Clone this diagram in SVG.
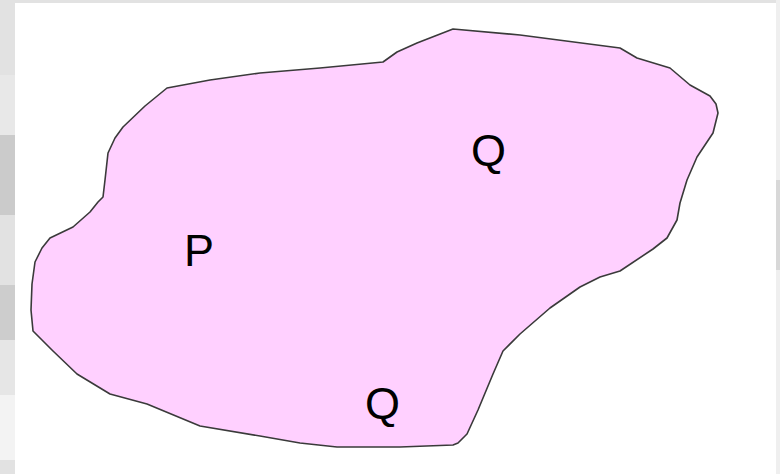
<svg xmlns="http://www.w3.org/2000/svg" width="780" height="474" viewBox="0 0 780 474">
<style>
.lbl{font-family:"Liberation Sans",Arial,sans-serif;font-size:45px;fill:#000}
.blob{fill:#ffd0ff;stroke:#3a3a3a;stroke-width:1.6;stroke-linejoin:round}
</style>
<g id="background">
<rect x="0" y="0" width="780" height="474" fill="#e2e2e2"/>
<rect x="0" y="75" width="15" height="60" fill="#e8e8e8"/>
<rect x="0" y="135" width="15" height="80" fill="#cbcbcb"/>
<rect x="0" y="215" width="15" height="70" fill="#e2e2e2"/>
<rect x="0" y="285" width="15" height="55" fill="#cdcdcd"/>
<rect x="0" y="340" width="15" height="55" fill="#e6e6e6"/>
<rect x="0" y="395" width="15" height="65" fill="#f3f3f3"/>
<rect x="776" y="0" width="4" height="474" fill="#efefef"/>
<rect x="776" y="180" width="4" height="90" fill="#d8d8d8"/>
<rect x="15" y="3" width="761" height="471" fill="#ffffff"/>
</g>
<g id="region">
<path class="blob" d="M50,238 L73,227 L90,212 L98,202 L103,197 L105,180 L108,153 L115,138 L123,127 L145,106 L167,88 L210,80 L260,73 L320,68 L383,62 L397,52 L417,43 L453,29 L520,35 L620,48 L637,58 L670,68 L690,85 L710,96 L716,104 L718,113 L713,133 L697,157 L687,180 L680,203 L677,220 L667,238 L653,249 L620,271 L600,277 L580,287 L550,308 L520,334 L503,351 L493,374 L478,410 L467,434 L458,443 L453,445 L400,447 L337,447 L300,443 L260,436 L200,426 L147,404 L110,394 L77,374 L53,351 L42,340 L33,331 L31,310 L32,284 L35,262 L42,248 Z"/>
</g>
<g id="label-P"><text class="lbl" x="184" y="266">P</text></g>
<g id="label-Q-top"><text class="lbl" x="471" y="166">Q</text></g>
<g id="label-Q-bottom"><text class="lbl" x="365" y="419">Q</text></g>
</svg>
